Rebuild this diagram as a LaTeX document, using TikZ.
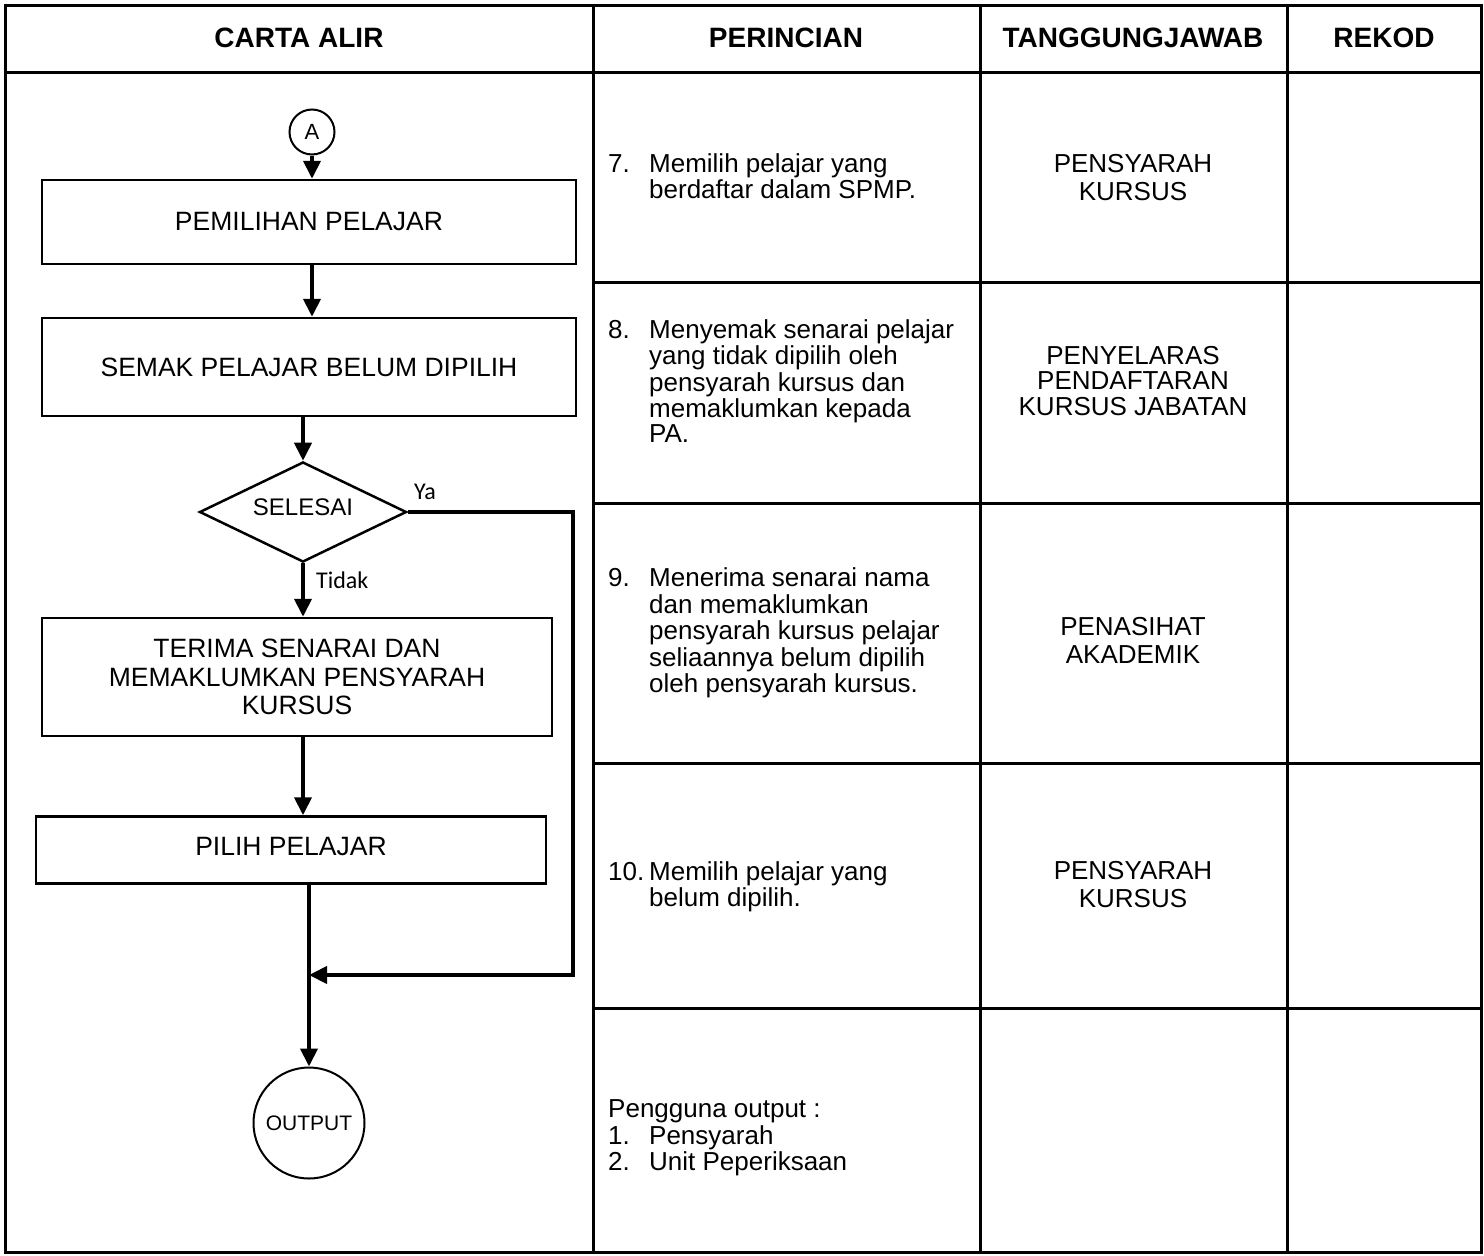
\documentclass[tikz,border=0pt]{standalone}
\usepackage{fontspec}
\setmainfont{Liberation Sans}
\newfontfamily\calib{Carlito}
\usetikzlibrary{arrows.meta,shapes.geometric,positioning}
\newcommand{\tline}{3pt}
\newcommand{\fline}{4pt}

\begin{document}
\begin{tikzpicture}[x=1pt,y=-1pt]
    \tikzset{
        proses/.style={draw, line width=2.5pt, inner sep=0pt, align=center,
            font=\fontsize{26.5}{28.5}\selectfont},
        keputusan/.style={draw, diamond, line width=2.5pt, inner sep=0pt,
            minimum width=207pt, minimum height=88pt, font=\fontsize{24}{26}\selectfont},
        penyambung/.style={draw, circle, line width=2pt, inner sep=0pt},
        aliran/.style={line width=\fline, -{Triangle[length=18pt,width=17pt]}},
        tajuk/.style={font=\bfseries\fontsize{28}{30}\selectfont},
        isi/.style={anchor=west, inner sep=0pt, font=\fontsize{26}{25}\selectfont},
        tugas/.style={align=center, inner sep=0pt, font=\fontsize{26}{28}\selectfont},
        cabang/.style={anchor=west, inner sep=0pt, font=\calib\fontsize{24}{26}\selectfont}
    }
    \useasboundingbox (0,0) rectangle (1484,1256);

    % jadual
    \draw[line width=\tline] (5,5) rectangle (1481,1252);
    \draw[line width=\tline] (5,72) -- (1481,72);
    \foreach \x in {593,980,1287}
        \draw[line width=\tline] (\x,5) -- (\x,1252);
    \foreach \y in {282,503,763,1008}
        \draw[line width=\tline] (593,\y) -- (1481,\y);

    \node[tajuk] (hcarta) at (299,38) {CARTA ALIR};
    \node[tajuk] (hperincian) at (786,38) {PERINCIAN};
    \node[tajuk] (htanggung) at (1133,38) {TANGGUNGJAWAB};
    \node[tajuk] (hrekod) at (1384,38) {REKOD};

    % carta alir
    \node[penyambung, minimum size=45pt, font=\fontsize{22}{24}\selectfont] (a) at (312,132) {A};
    \node[proses, minimum width=534pt, minimum height=84pt] (pemilihan) at (309,222) {PEMILIHAN PELAJAR};
    \node[proses, minimum width=534pt, minimum height=98pt] (semak) at (309,367) {SEMAK PELAJAR BELUM DIPILIH};
    \node[keputusan] (selesai) at (303,512) {\raisebox{0pt}[0pt][0pt]{\raisebox{-3pt}{SELESAI}}};
    \node[proses, minimum width=510pt, minimum height=118pt] (terima) at (297,677)
        {TERIMA SENARAI DAN\\MEMAKLUMKAN PENSYARAH\\KURSUS};
    \node[proses, minimum width=510pt, minimum height=67pt] (pilih) at (291,850)
        {\raisebox{8pt}{PILIH PELAJAR}};
    \node[penyambung, minimum size=111pt, font=\fontsize{21}{23}\selectfont] (output) at (309,1123) {OUTPUT};
    \coordinate (sisi) at (573,975);
    \coordinate (gabung) at (309,975);

    \draw[aliran] (a) -- (a |- pemilihan.north);
    \draw[aliran] (pemilihan.south -| a) -- (semak.north -| a);
    \draw[aliran] (semak.south -| selesai) -- (selesai.north);
    \draw[aliran] (selesai.south) -- (selesai.south |- terima.north);
    \draw[aliran] (terima.south -| selesai) -- (pilih.north -| selesai);
    \draw[aliran] (pilih.south -| output) -- (output.north);
    \draw[aliran] (selesai.east) -| (sisi) -- (gabung);
    \node[cabang] (ya) at (414,492) {Ya};
    \node[cabang] (tidak) at (316,580) {Tidak};

    % perincian
    \node[isi] (p7) at (608,180) {\begin{tabular}{@{}p{41pt}@{}l@{}}
        7. & Memilih pelajar yang\\ & berdaftar dalam SPMP.\end{tabular}};
    \node[isi] (p8) at (608,385) {\begin{tabular}{@{}p{41pt}@{}l@{}}
        8. & Menyemak senarai pelajar\\ & yang tidak dipilih oleh\\ & pensyarah kursus dan\\
        & memaklumkan kepada\\ & PA.\end{tabular}};
    \node[isi] (p9) at (608,634) {\begin{tabular}{@{}p{41pt}@{}l@{}}
        9. & Menerima senarai nama\\ & dan memaklumkan\\ & pensyarah kursus pelajar\\
        & seliaannya belum dipilih\\ & oleh pensyarah kursus.\end{tabular}};
    \node[isi] (p10) at (608,888) {\begin{tabular}{@{}p{41pt}@{}l@{}}
        10. & Memilih pelajar yang\\ & belum dipilih.\end{tabular}};
    \node[isi] (pguna) at (608,1139) {\begin{tabular}{@{}p{41pt}@{}l@{}}
        \multicolumn{2}{@{}l@{}}{Pengguna output :}\\ 1. & Pensyarah\\ 2. & Unit Peperiksaan\end{tabular}};

    % tanggungjawab
    \node[tugas] (t7) at (1133,178) {PENSYARAH\\KURSUS};
    \node[tugas, font=\fontsize{26}{25.5}\selectfont] (t8) at (1133,381) {PENYELARAS\\PENDAFTARAN\\KURSUS JABATAN};
    \node[tugas] (t9) at (1133,640) {PENASIHAT\\AKADEMIK};
    \node[tugas] (t10) at (1133,885) {PENSYARAH\\KURSUS};
\end{tikzpicture}
\end{document}
